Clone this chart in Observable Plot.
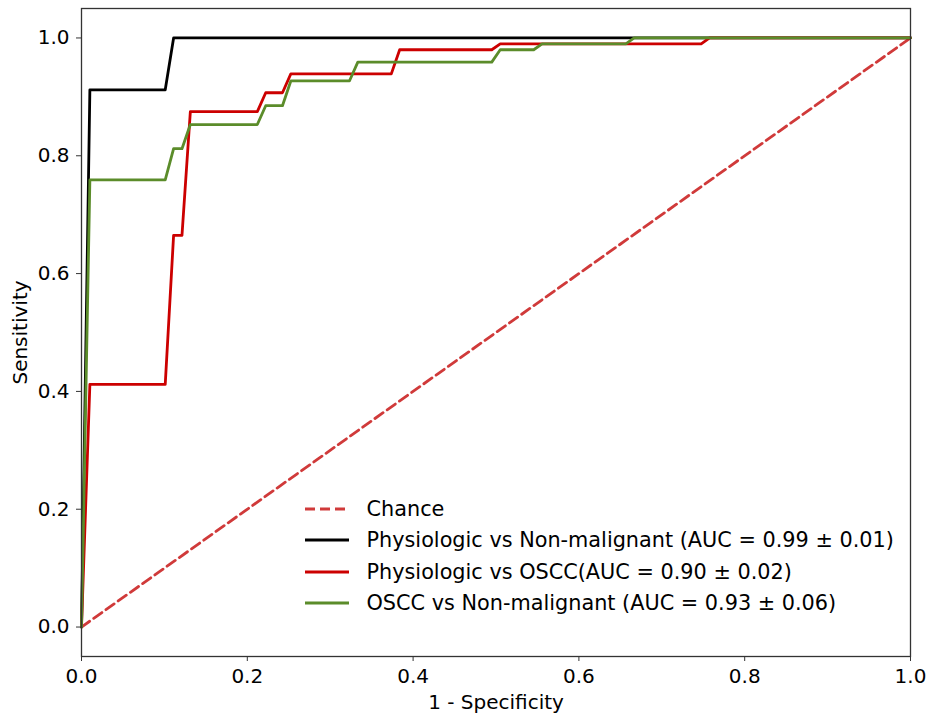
<!DOCTYPE html>
<html>
<head>
<meta charset="utf-8">
<script src="https://cdn.jsdelivr.net/npm/d3@7"></script>
<script src="https://cdn.jsdelivr.net/npm/@observablehq/plot@0.6"></script>
<style>
  html, body { margin: 0; padding: 0; background: #fff; }
  #wrap { position: relative; width: 932px; height: 715px; font-family: "DejaVu Sans", sans-serif; }
  #legend { position: absolute; left: 305px; top: 493.3px; font-size: 20.8px; color: #000; }
  .row { display: flex; align-items: center; height: 31.4px; white-space: nowrap; }
  .row svg { width: 44px; height: 10px; margin-right: 17.5px; flex: none; }
</style>
</head>
<body>
<div id="wrap"></div>
<script>
// ---- data ----
const seriesNames = [
  "Chance",
  "Physiologic vs Non-malignant (AUC = 0.99 \u00b1 0.01)",
  "Physiologic vs OSCC(AUC = 0.90 \u00b1 0.02)",
  "OSCC vs Non-malignant (AUC = 0.93 \u00b1 0.06)"
];
const seriesColors = ["#d03a3a", "#000000", "#cc0000", "#5b8c2a"];

const chanceX = [0, 1];
const chanceY = [0, 1];

const blackX = [0, 0.0101, 0.101, 0.1111, 1];
const blackY = [0, 0.912, 0.912, 1, 1];

const redX = [0, 0.0101, 0.101, 0.1111, 0.1212, 0.1313, 0.2121, 0.2222, 0.2424, 0.2525, 0.3737, 0.3838, 0.4949, 0.5051, 0.7475, 0.7576, 1];
const redY = [0, 0.412, 0.412, 0.665, 0.665, 0.875, 0.875, 0.907, 0.907, 0.939, 0.939, 0.98, 0.98, 0.99, 0.99, 1, 1];

const greenX = [0, 0.0101, 0.101, 0.1111, 0.1212, 0.1313, 0.2121, 0.2222, 0.2424, 0.2525, 0.3232, 0.3333, 0.4949, 0.5051, 0.5455, 0.5556, 0.6566, 0.6667, 1];
const greenY = [0, 0.759, 0.759, 0.812, 0.812, 0.853, 0.853, 0.885, 0.885, 0.927, 0.927, 0.959, 0.959, 0.98, 0.98, 0.99, 0.99, 1, 1];

const tickValues = [0, 0.2, 0.4, 0.6, 0.8, 1.0];
const xLabel = "1 - Specificity";
const yLabel = "Sensitivity";

// ---- build ----
const toRows = (xs, ys) => xs.map((x, i) => ({x, y: ys[i]}));
const chance = toRows(chanceX, chanceY);
const black = toRows(blackX, blackY);
const red = toRows(redX, redY);
const green = toRows(greenX, greenY);

const chart = Plot.plot({
  width: 932,
  height: 715,
  marginLeft: 81,
  marginRight: 22,
  marginTop: 8,
  marginBottom: 59,
  style: {fontFamily: "DejaVu Sans, sans-serif", fontSize: "20px", color: "#000", background: "#fff", overflow: "visible"},
  x: {domain: [0, 1]},
  y: {domain: [-0.05, 1.05]},
  marks: [
    Plot.line(chance, {x: "x", y: "y", stroke: seriesColors[0], strokeWidth: 2.8, strokeDasharray: "10,5"}),
    Plot.line(black, {x: "x", y: "y", stroke: seriesColors[1], strokeWidth: 2.8}),
    Plot.line(red, {x: "x", y: "y", stroke: seriesColors[2], strokeWidth: 2.8}),
    Plot.line(green, {x: "x", y: "y", stroke: seriesColors[3], strokeWidth: 2.8}),
    Plot.frame({stroke: "#333", strokeWidth: 1.3}),
    Plot.axisX({ticks: tickValues, tickFormat: d3.format(".1f"), tickSize: 5, tickPadding: 7, stroke: "#333",
      label: xLabel, labelAnchor: "center", labelArrow: "none", labelOffset: 52}),
    Plot.axisY({ticks: tickValues, tickFormat: d3.format(".1f"), tickSize: 5, tickPadding: 7, stroke: "#333",
      label: yLabel, labelAnchor: "center", labelArrow: "none", labelOffset: 69})
  ]
});

const wrap = document.getElementById("wrap");
wrap.appendChild(chart);

// legend (HTML overlay)
const legend = document.createElement("div");
legend.id = "legend";
seriesNames.forEach((name, i) => {
  const row = document.createElement("div");
  row.className = "row";
  const dash = i === 0 ? ' stroke-dasharray="10,5"' : '';
  row.innerHTML = `<svg viewBox="0 0 44 10"><line x1="0" y1="5" x2="44" y2="5" stroke="${seriesColors[i]}" stroke-width="2.8"${dash}/></svg><span>${name}</span>`;
  legend.appendChild(row);
});
wrap.appendChild(legend);
</script>
</body>
</html>
